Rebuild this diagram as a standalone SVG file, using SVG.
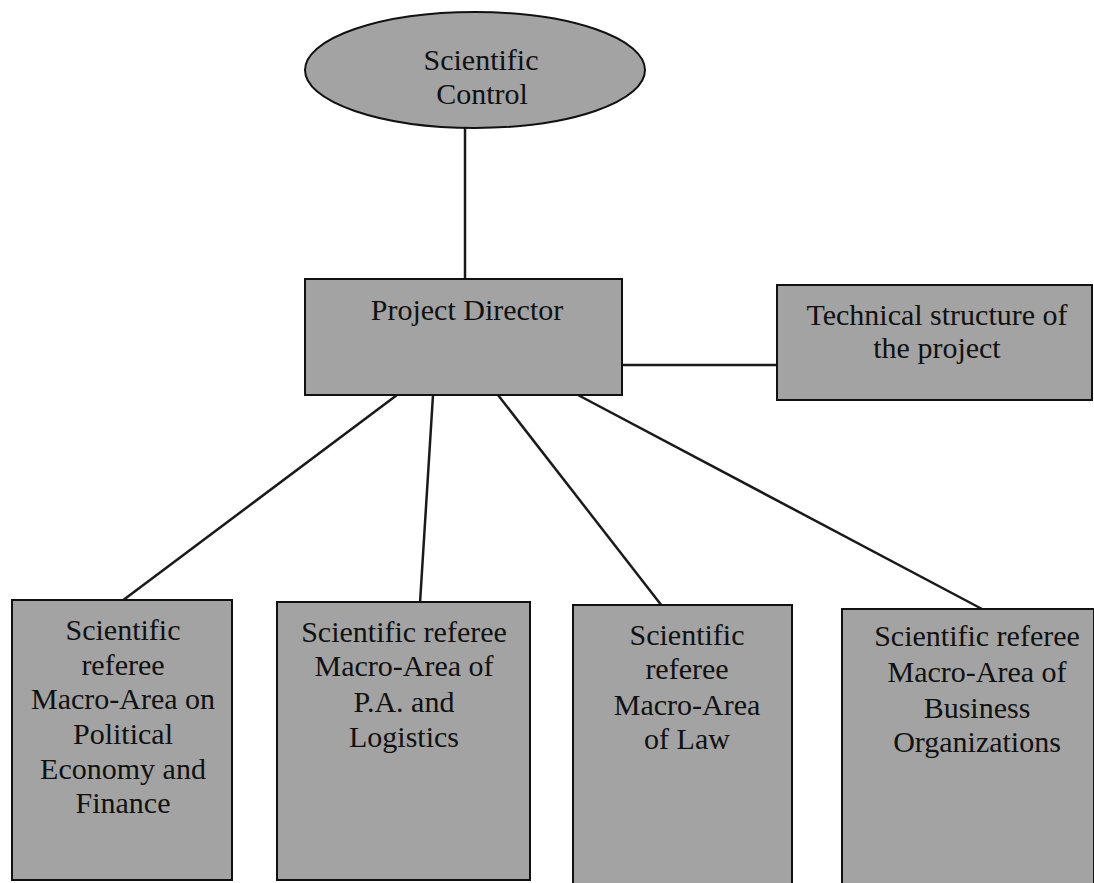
<svg xmlns="http://www.w3.org/2000/svg" width="1094" height="883" viewBox="0 0 1094 883">
<style>
.node{fill:#a3a3a3;stroke:#111;stroke-width:2}
.t{font-size:30px;fill:#111;text-anchor:middle}
.c line{stroke:#1a1a1a;stroke-width:2.5}
</style>
<rect width="1094" height="883" fill="#fff"/>
<g class="c" id="connectors">
<line x1="465" y1="128" x2="465" y2="280"/>
<line x1="622" y1="365" x2="777" y2="365"/>
<line x1="397" y1="395" x2="122" y2="601"/>
<line x1="433" y1="395" x2="420" y2="603"/>
<line x1="498" y1="395" x2="662" y2="606"/>
<line x1="578" y1="395" x2="982" y2="609"/>
</g>
<g font-family="Liberation Serif, DejaVu Serif, serif">
<g id="scientific-control">
<ellipse class="node" cx="475" cy="70" rx="170" ry="58"/>
<text class="t" x="481" y="70">Scientific</text>
<text class="t" x="482" y="104">Control</text>
</g>
<g id="project-director">
<rect class="node" x="305" y="279" width="317" height="116"/>
<text class="t" x="467" y="320">Project Director</text>
</g>
<g id="technical-structure">
<rect class="node" x="777" y="285" width="315" height="115"/>
<text class="t" x="937" y="325">Technical structure of</text>
<text class="t" x="937" y="358">the project</text>
</g>
<g id="referee-economy">
<rect class="node" x="12" y="600" width="220" height="280"/>
<text class="t" x="123" y="640">Scientific</text>
<text class="t" x="123" y="675">referee</text>
<text class="t" x="123" y="709">Macro-Area on</text>
<text class="t" x="123" y="744">Political</text>
<text class="t" x="123" y="779">Economy and</text>
<text class="t" x="123" y="813">Finance</text>
</g>
<g id="referee-pa">
<rect class="node" x="277" y="602" width="253" height="278"/>
<text class="t" x="404" y="642">Scientific referee</text>
<text class="t" x="404" y="676">Macro-Area of</text>
<text class="t" x="404" y="712">P.A. and</text>
<text class="t" x="404" y="747">Logistics</text>
</g>
<g id="referee-law">
<rect class="node" x="573" y="605" width="219" height="280"/>
<text class="t" x="687" y="645">Scientific</text>
<text class="t" x="687" y="679">referee</text>
<text class="t" x="687" y="715">Macro-Area</text>
<text class="t" x="687" y="749">of Law</text>
</g>
<g id="referee-business">
<rect class="node" x="842" y="609" width="252" height="280"/>
<text class="t" x="977" y="646">Scientific referee</text>
<text class="t" x="977" y="682">Macro-Area of</text>
<text class="t" x="977" y="718">Business</text>
<text class="t" x="977" y="752">Organizations</text>
</g>
</g>
</svg>
